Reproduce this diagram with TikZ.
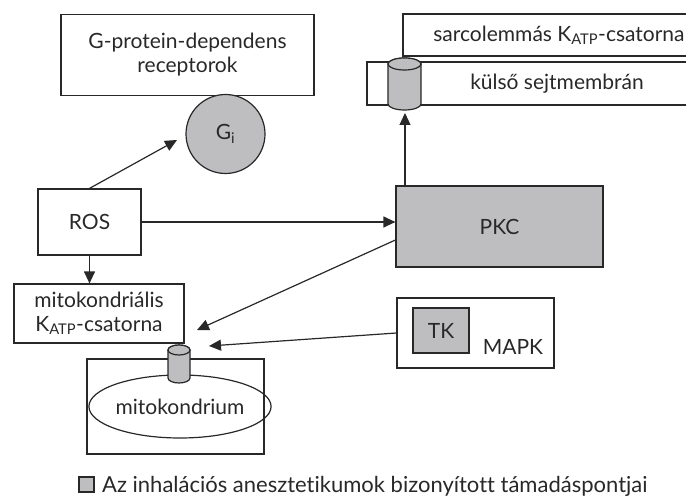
\documentclass[tikz,border=0pt]{standalone}
\usepackage{fontspec}
\setmainfont{Lato}[Ligatures=NoCommon]
\usetikzlibrary{arrows.meta,shapes.geometric}
\definecolor{szurke}{RGB}{190,190,193}
\definecolor{vonal}{RGB}{40,40,40}
\begin{document}
\begin{tikzpicture}[x=1pt,y=-1pt,
    every node/.style={font=\fontsize{21}{24}\selectfont, text=vonal},
    doboz/.style={draw=vonal, line width=1.2pt, inner sep=0pt, align=center},
    nyil/.style={draw=vonal, line width=1.2pt, -{Triangle[length=12pt,width=11pt]}},
    csatorna/.style={draw=vonal, line width=1.2pt, fill=szurke}]
    \useasboundingbox (0,0) rectangle (686,500);
    \clip (0,0) rectangle (686,500);
    % dobozok
    \node[doboz, minimum width=253pt, minimum height=81pt] (gpr) at (187.5,55) {G-protein-dependens\\receptorok};
    \node[doboz, circle, fill=szurke, minimum size=79pt] (gi) at (225.5,134) {G\textsubscript{i}};
    \node[doboz, minimum width=103pt, minimum height=66pt] (ros) at (89.5,222) {ROS};
    \node[doboz, fill=szurke, minimum width=207pt, minimum height=81pt] (pkc) at (499.5,226.5) {PKC};
    \node[doboz, minimum width=312pt, minimum height=42pt] (sarc) at (559,35) {sarcolemmás K\textsubscript{ATP}-csatorna};
    \node[doboz, minimum width=380pt, minimum height=43pt] (kulso) at (557,83.5) {külső sejtmembrán};
    \node[doboz, minimum width=170pt, minimum height=59pt] (mitok) at (99,313.5) {mitokondriális\\K\textsubscript{ATP}-csatorna};
    \node[doboz, minimum width=177pt, minimum height=95pt] (mitob) at (175.5,406.5) {};
    \node[doboz, ellipse, minimum width=154pt, minimum height=63pt] (mito) at (180,406.5) {mitokondrium};
    \node[doboz, minimum width=157pt, minimum height=70pt] (mapk) at (475.5,333) {};
    \node[doboz, fill=szurke, minimum width=56pt, minimum height=45pt] (tk) at (441,330.5) {TK};
    \node[anchor=base, inner sep=0pt] (mapkfelirat) at (513,354) {MAPK};
    % csatornak
    \filldraw[csatorna] (388,64) -- (388,104) arc (180:0:16.5 and 6) -- (421,64) arc (0:-180:16.5 and 6) -- cycle;
    \draw[csatorna] (404.5,64) ellipse (16.5 and 6);
    \filldraw[csatorna] (168,350) -- (168,378) arc (180:0:11 and 5) -- (190,350) arc (0:-180:11 and 5) -- cycle;
    \draw[csatorna] (179,350) ellipse (11 and 5);
    \coordinate (kulsocs) at (405,113);
    \coordinate (gicel) at (177,140);
    \coordinate (mitocel1) at (197,330);
    \coordinate (mitocel2) at (209,346);
    % nyilak
    \draw[nyil] (ros.north) -- (gicel);
    \draw[nyil] (ros.east) -- (ros.east -| pkc.west);
    \draw[nyil] (ros.south) -- (ros.south |- mitok.north);
    \draw[nyil] (kulsocs |- pkc.north) -- (kulsocs);
    \draw[nyil] ([yshift=-13.5pt]pkc.west) -- (mitocel1);
    \draw[nyil] (mapk.west) -- (mitocel2);
    % jelmagyarazat
    \node[doboz, fill=szurke, minimum size=15pt] (jel) at (86.5,484.5) {};
    \node[anchor=base west, inner sep=0pt, font=\fontsize{22}{26}\selectfont] (jelmagy) at (102,492) {Az inhalációs anesztetikumok bizonyított támadáspontjai};
\end{tikzpicture}
\end{document}
